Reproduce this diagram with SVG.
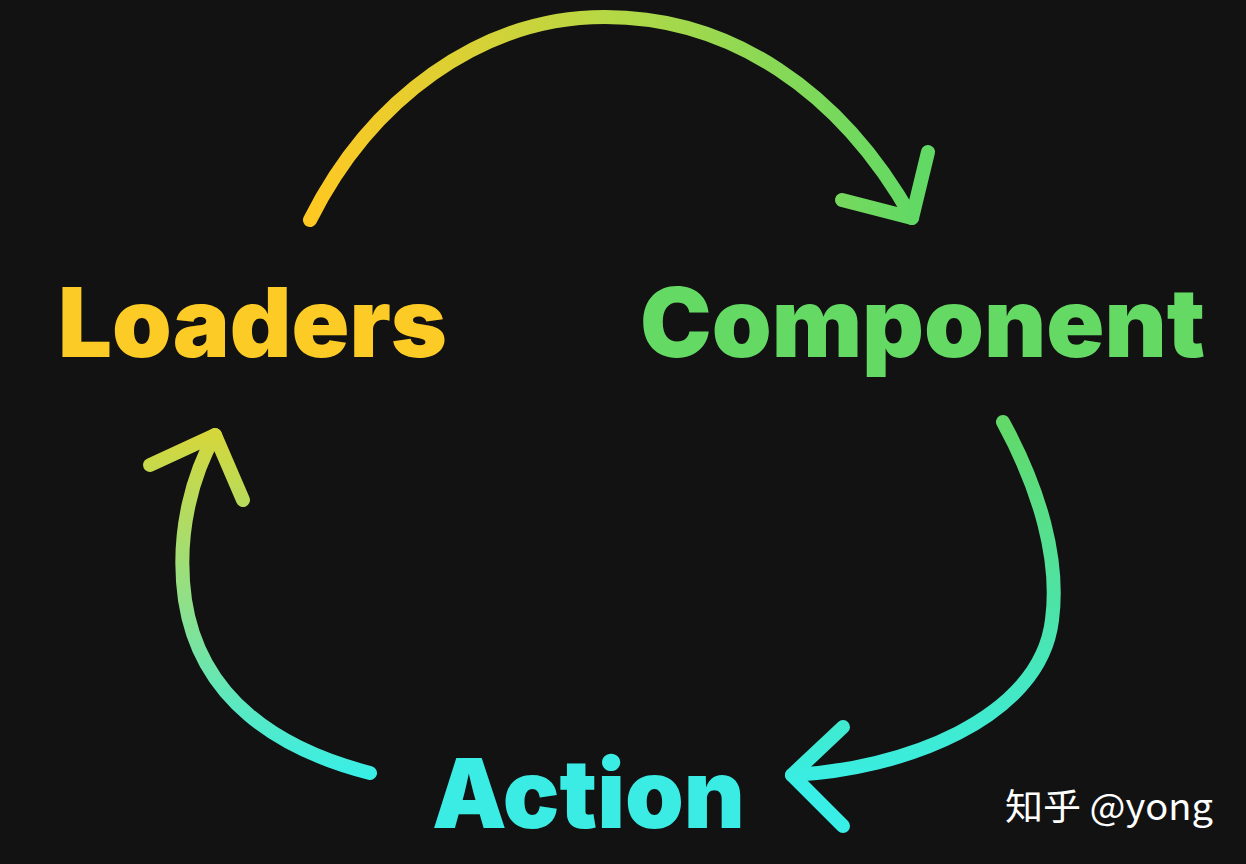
<svg xmlns="http://www.w3.org/2000/svg" width="1246" height="864" viewBox="0 0 1246 864">
<style>
.lbl{font-family:Inter,"Liberation Sans",sans-serif;font-weight:900}
.arc{fill:none;stroke-width:14;stroke-linecap:round;stroke-linejoin:round}
.wm{font-family:"Noto Sans CJK SC","Noto Sans",sans-serif;font-size:36px;fill:#ffffff}
</style>
<defs>
<linearGradient id="gTop" gradientUnits="userSpaceOnUse" x1="310" y1="0" x2="912" y2="0">
<stop offset="0" stop-color="#FFC822"/>
<stop offset="0.5" stop-color="#B5D845"/>
<stop offset="1" stop-color="#62D964"/>
</linearGradient>
<linearGradient id="gRight" gradientUnits="userSpaceOnUse" x1="0" y1="422" x2="0" y2="790">
<stop offset="0" stop-color="#62D968"/>
<stop offset="1" stop-color="#38EEE6"/>
</linearGradient>
<linearGradient id="gLeft" gradientUnits="userSpaceOnUse" x1="0" y1="775" x2="0" y2="435">
<stop offset="0" stop-color="#38EEE6"/>
<stop offset="0.5" stop-color="#8EE08A"/>
<stop offset="1" stop-color="#D4D73C"/>
</linearGradient>
</defs>
<rect x="0" y="0" width="1246" height="864" fill="#121212"/>
<g id="connectors">
<g id="edge-loaders-component">
<path class="arc" stroke="url(#gTop)" d="M310,220 C370,100 480,17 605,17 C730,17 840,90 912,218"/>
<path class="arc" stroke="url(#gTop)" d="M928,152 L912,218 L842,200"/>
</g>
<g id="edge-component-action">
<path class="arc" stroke="url(#gRight)" d="M1003,422 C1040,490 1060,560 1052,620 C1040,720 900,770 792,775"/>
<path class="arc" stroke="url(#gRight)" d="M843,727 L792,775 L843,826"/>
</g>
<g id="edge-action-loaders">
<path class="arc" stroke="url(#gLeft)" d="M370,773 C280,750 200,700 185,600 C175,530 195,470 215,435"/>
<path class="arc" stroke="url(#gLeft)" d="M150,465 L215,435 L243,500"/>
</g>
</g>
<g id="node-loaders">
<text class="lbl" x="58" y="357" font-size="96" fill="#FDCB25" textLength="389" lengthAdjust="spacingAndGlyphs">Loaders</text>
</g>
<g id="node-component">
<text class="lbl" x="640" y="357" font-size="96" fill="#64DA64" textLength="565" lengthAdjust="spacingAndGlyphs">Component</text>
</g>
<g id="node-action">
<text class="lbl" x="432" y="828" font-size="96" fill="#3AECE4" textLength="313" lengthAdjust="spacingAndGlyphs">Action</text>
</g>
<text class="wm" x="1005" y="820" textLength="208" lengthAdjust="spacingAndGlyphs">知乎 @yong</text>
</svg>
